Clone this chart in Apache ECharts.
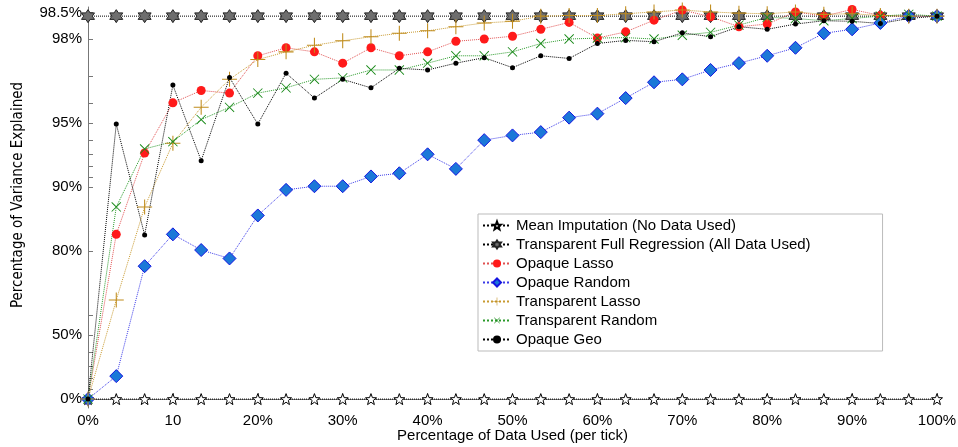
<!DOCTYPE html>
<html>
<head>
<meta charset="utf-8">
<script src="https://cdn.jsdelivr.net/npm/echarts@6/dist/echarts.min.js"></script>
<style>
  html, body { margin: 0; padding: 0; background: #fff; }
  #main { width: 958px; height: 447px; }
</style>
</head>
<body>
<div id="main"></div>
<script>
// x positions: one point per tick (30 ticks over the data)
var xPct = [0, 3.33, 6.67, 10, 13.33, 16.67, 20, 23.33, 26.67, 30, 33.33, 36.67, 40, 43.33, 46.67, 50,
  53.33, 56.67, 60, 63.33, 66.67, 70, 73.33, 76.67, 80, 83.33, 86.67, 90, 93.33, 96.67, 100];

var xTickLabels = ['0%', '10', '20%', '30%', '40%', '50%', '60%', '70%', '80%', '90%', '100%'];
var yLabelPct = [0, 50, 80, 90, 95, 98, 98.5];
var yTickPct = [0, 10, 20, 30, 40, 50, 60, 80, 90, 91, 92, 93, 94, 95, 96, 97, 98, 98.5];

var meanImputation = [0, 0, 0, 0, 0, 0, 0, 0, 0, 0, 0, 0, 0, 0, 0, 0, 0, 0, 0, 0, 0, 0, 0, 0, 0, 0, 0, 0, 0, 0, 0];
var fullRegression = [98.44, 98.44, 98.44, 98.44, 98.44, 98.44, 98.44, 98.44, 98.44, 98.44, 98.44, 98.44, 98.44,
  98.44, 98.44, 98.44, 98.44, 98.44, 98.44, 98.44, 98.44, 98.44, 98.44, 98.44, 98.44, 98.44, 98.44, 98.44, 98.44,
  98.44, 98.44];
var opaqueLasso = [0, 83.3, 93.1, 96.0, 96.5, 96.4, 97.6, 97.8, 97.7, 97.4, 97.8, 97.6, 97.7, 97.95, 98.0, 98.06,
  98.2, 98.33, 98.02, 98.15, 98.37, 98.54, 98.43, 98.25, 98.3, 98.51, 98.44, 98.55, 98.45, 98.44, 98.44];
var opaqueRandom = [0, 22.1, 76.4, 83.3, 80.2, 78.3, 86.4, 89.7, 90.1, 90.1, 91.1, 91.4, 93.0, 91.8, 94.0, 94.3,
  94.5, 95.3, 95.5, 96.2, 96.8, 96.9, 97.2, 97.4, 97.6, 97.8, 98.12, 98.2, 98.32, 98.44, 98.44];
var transparentLasso = [0, 65.9, 87.6, 93.8, 95.8, 96.9, 97.5, 97.7, 97.86, 97.96, 98.05, 98.12, 98.17, 98.25,
  98.32, 98.35, 98.44, 98.45, 98.45, 98.48, 98.51, 98.54, 98.51, 98.49, 98.48, 98.51, 98.47, 98.48, 98.45, 98.44, 98.44];
var transparentRandom = [0, 87.6, 93.4, 93.9, 95.2, 95.8, 96.4, 96.6, 96.9, 96.95, 97.2, 97.2, 97.4, 97.6, 97.6,
  97.7, 97.9, 98.0, 98.02, 98.03, 98.0, 98.08, 98.14, 98.28, 98.42, 98.4, 98.36, 98.4, 98.44, 98.47, 98.44];
var opaqueGeo = [0, 94.96, 83.2, 96.7, 92.5, 96.96, 94.96, 97.1, 96.2, 96.9, 96.6, 97.25, 97.2, 97.4, 97.55, 97.27,
  97.6, 97.53, 97.9, 97.97, 97.94, 98.13, 98.05, 98.25, 98.2, 98.3, 98.36, 98.35, 98.31, 98.4, 98.44];

// the y axis is stretched near 100%: plot -log10(1 - v)
function tf(v) { return -Math.log10(1 - v / 100); }
function untf(t) { return 100 * (1 - Math.pow(10, -t)); }

function pts(vals) {
  return vals.map(function (v, i) { return [xPct[i], tf(v)]; });
}

function starPath(n, rOut, rIn) {
  var s = '';
  for (var k = 0; k < 2 * n; k++) {
    var r = k % 2 ? rIn : rOut;
    var a = -Math.PI / 2 + k * Math.PI / n;
    s += (k ? 'L' : 'M') + (r * Math.cos(a)).toFixed(3) + ' ' + (r * Math.sin(a)).toFixed(3) + ' ';
  }
  return 'path://' + s + 'Z';
}
var star5 = starPath(5, 10, 4.2);
var star6 = starPath(6, 10, 5.77);
var plus = 'path://M-0.7,-10 L0.7,-10 L0.7,-0.7 L10,-0.7 L10,0.7 L0.7,0.7 L0.7,10 L-0.7,10 L-0.7,0.7 L-10,0.7 L-10,-0.7 L-0.7,-0.7 Z';

var font = '"Liberation Sans", Arial, Helvetica, sans-serif';

function line(name, vals, color, symbol, size, itemStyle, rotate) {
  return {
    name: name,
    type: 'line',
    data: pts(vals),
    symbol: symbol,
    symbolSize: size,
    symbolRotate: rotate || 0,
    showAllSymbol: true,
    lineStyle: { color: color, width: 1, type: 'dotted' },
    itemStyle: itemStyle,
    emphasis: { disabled: true }
  };
}

var chart = echarts.init(document.getElementById('main'));
chart.setOption({
  animation: false,
  grid: { left: 88, right: 21, top: 7, bottom: 39, containLabel: false, outerBoundsMode: 'none' },
  xAxis: {
    type: 'value',
    min: 0, max: 100, interval: 10,
    name: 'Percentage of Data Used (per tick)',
    nameLocation: 'middle',
    nameGap: 20,
    nameMoveOverlap: false,
    nameTextStyle: { fontFamily: font, fontSize: 15, color: '#000' },
    axisLine: { lineStyle: { color: '#777', width: 1 } },
    axisTick: { inside: true, length: 6, lineStyle: { color: '#777' } },
    axisLabel: {
      margin: 5, fontFamily: font, fontSize: 15, color: '#000',
      formatter: function (v) { return xTickLabels[Math.round(v / 10)]; }
    },
    splitLine: { show: false }
  },
  yAxis: {
    type: 'value',
    min: -0.042, max: 1.85,
    axisLine: { show: true, lineStyle: { color: '#777', width: 1 } },
    axisTick: { show: true, inside: true, length: 5, lineStyle: { color: '#777' },
      customValues: yTickPct.map(tf) },
    axisLabel: {
      margin: 6, fontFamily: font, fontSize: 15, color: '#000',
      customValues: yLabelPct.map(tf),
      formatter: function (t) { return (Math.round(untf(t) * 10) / 10) + '%'; }
    },
    splitLine: { show: false }
  },
  legend: {
    orient: 'vertical',
    left: 478, top: 214,
    padding: [4, 72, 4, 4],
    itemWidth: 28, itemHeight: 10, itemGap: 4,
    backgroundColor: '#fff',
    borderColor: '#bbb', borderWidth: 1,
    textStyle: { fontFamily: font, fontSize: 15, color: '#000' }
  },
  graphic: [{
    type: 'text',
    x: 18, y: 195,
    rotation: Math.PI / 2,
    style: {
      text: 'Percentage of Variance Explained',
      font: '15px "Liberation Sans Narrow", "DejaVu Sans Condensed", Arial, sans-serif',
      fill: '#000', align: 'center', verticalAlign: 'middle'
    }
  }],
  series: [
    line('Mean Imputation (No Data Used)', meanImputation, '#000', star5, 11,
      { color: '#fff', borderColor: '#000', borderWidth: 1 }),
    line('Transparent Full Regression (All Data Used)', fullRegression, '#000', star6, 13,
      { color: '#6e6e6e', borderColor: '#222', borderWidth: 1 }),
    line('Opaque Lasso', opaqueLasso, '#e05050', 'circle', 9,
      { color: '#ff1a1a', borderColor: '#ff1a1a', borderWidth: 0 }),
    line('Opaque Random', opaqueRandom, '#3a3ae8', 'diamond', 13,
      { color: '#1b78d8', borderColor: '#1515e0', borderWidth: 1 }),
    line('Transparent Lasso', transparentLasso, '#c89a30', plus, 15,
      { color: '#c08c1c', borderWidth: 0 }),
    line('Transparent Random', transparentRandom, '#2a9a2a', plus, 13,
      { color: '#1a8a1a', borderWidth: 0 }, 45),
    line('Opaque Geo', opaqueGeo, '#000', 'circle', 5,
      { color: '#000', borderWidth: 0 })
  ]
});
</script>
</body>
</html>
